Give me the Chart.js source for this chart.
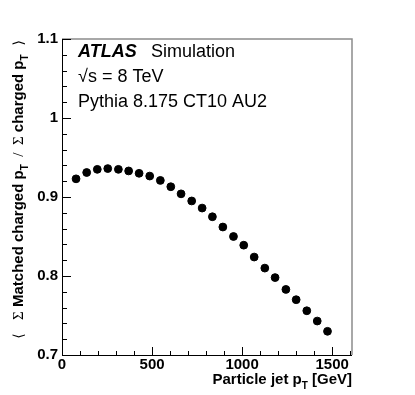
<!DOCTYPE html>
<html>
<head>
<meta charset="utf-8">
<script src="https://cdn.jsdelivr.net/npm/chart.js"></script>
<style>
html, body { margin: 0; padding: 0; background: #fff; }
canvas { display: block; }
</style>
</head>
<body>
<canvas id="graph" width="415" height="395"></canvas>
<script>
// particle jet pT bin centres [GeV] and mean matched fraction
var jetPt = [78, 137, 196, 254, 313, 370, 428, 487, 546, 604, 661, 720, 778,
             835, 893, 952, 1009, 1067, 1126, 1183, 1243, 1300, 1359, 1417, 1474];
var matchedFrac = [0.923, 0.931, 0.935, 0.936, 0.935, 0.933, 0.930, 0.9265, 0.921, 0.913,
                   0.904, 0.895, 0.886, 0.875, 0.862, 0.850, 0.839, 0.824, 0.810, 0.798,
                   0.783, 0.770, 0.756, 0.743, 0.730];
var xTickVals = [0, 500, 1000, 1500];
var xTickLabels = ['0', '500', '1000', '1500'];
var yTickVals = [0.7, 0.8, 0.9, 1.0, 1.1];
var yTickLabels = ['0.7', '0.8', '0.9', '1', '1.1'];
var infoLines = ['√s = 8 TeV', 'Pythia 8.175 CT10 AU2'];

var BOLD = 'bold 15px "Liberation Sans", Arial, sans-serif';
var SUB = 'bold 10px "Liberation Sans", Arial, sans-serif';
var SIGMA = '15px "Liberation Serif", "DejaVu Serif", serif';
var BRACK = '14px "DejaVu Sans", sans-serif';

function drawRich(c, parts, x, y, align){
    var total = 0;
    parts.forEach(function(p){
        c.font = p.font;
        p.w = c.measureText(p.text).width;
        total += p.w;
    });
    var cx = align === 'right' ? x - total : x;
    parts.forEach(function(p){
        c.font = p.font;
        c.fillText(p.text, cx, y + (p.dy || 0));
        cx += p.w;
    });
}

var decorations = {
    id: 'decorations',
    beforeDatasetsDraw: function(chart){
        var c = chart.ctx;
        var a = chart.chartArea;
        var xs = chart.scales.x, ys = chart.scales.y;
        c.save();
        // grey top/right frame
        c.strokeStyle = '#8c8c8c';
        c.lineWidth = 1.5;
        c.beginPath();
        c.moveTo(a.left, a.top); c.lineTo(a.right, a.top); c.lineTo(a.right, a.bottom);
        c.stroke();
        // axes
        c.strokeStyle = '#000';
        c.lineWidth = 1;
        c.beginPath();
        c.moveTo(a.left + 0.5, a.top); c.lineTo(a.left + 0.5, a.bottom + 0.5); c.lineTo(a.right, a.bottom + 0.5);
        c.stroke();
        // inward ticks, x
        c.beginPath();
        for(let v = 0; v <= 1600; v += 100){
            let px = Math.round(xs.getPixelForValue(v)) + 0.5;
            let len = v % 500 === 0 ? 8 : 4;
            c.moveTo(px, a.bottom); c.lineTo(px, a.bottom - len);
        }
        // inward ticks, y
        for(let i = 0; i <= 20; i++){
            let v = 0.7 + i * 0.02;
            let py = Math.round(ys.getPixelForValue(v)) + 0.5;
            let len = i % 5 === 0 ? 9 : 5;
            c.moveTo(a.left, py); c.lineTo(a.left + len, py);
        }
        c.stroke();
        c.restore();
    },
    afterDraw: function(chart){
        var c = chart.ctx;
        var a = chart.chartArea;
        c.save();
        c.fillStyle = '#000';
        c.textBaseline = 'alphabetic';
        c.textAlign = 'left';
        // ATLAS label
        c.font = 'italic bold 18px "Liberation Sans", Arial, sans-serif';
        c.fillText('ATLAS', 78, 57);
        c.font = '18px "Liberation Sans", Arial, sans-serif';
        c.fillText('Simulation', 151, 57);
        c.fillText(infoLines[0], 78, 82);
        c.fillText(infoLines[1], 78, 107);
        // x title
        drawRich(c, [
            {text: 'Particle jet p', font: BOLD},
            {text: 'T', font: SUB, dy: 5},
            {text: ' [GeV]', font: BOLD}
        ], a.right, 384, 'right');
        // y title (rotated)
        c.translate(23, a.top + 1);
        c.rotate(-Math.PI / 2);
        drawRich(c, [
            {text: '\u27E8   ', font: BRACK},
            {text: 'Σ', font: SIGMA},
            {text: ' Matched charged p', font: BOLD},
            {text: 'T', font: SUB, dy: 5},
            {text: '  /  ', font: SIGMA},
            {text: 'Σ', font: SIGMA},
            {text: ' charged p', font: BOLD},
            {text: 'T', font: SUB, dy: 5},
            {text: '  \u27E9', font: BRACK}
        ], 0, 0, 'right');
        c.restore();
    }
};

var ctx = document.getElementById('graph').getContext('2d');
var chart = new Chart(ctx, {
    type: 'scatter',
    data: {
        datasets: [{
            data: jetPt.map(function(x, i){ return {x: x, y: matchedFrac[i]}; }),
            backgroundColor: '#000',
            borderColor: '#000',
            pointRadius: 3.9,
            pointHoverRadius: 3.9,
            showLine: false
        }]
    },
    options: {
        responsive: false,
        animation: false,
        events: [],
        layout: { padding: { left: 0, right: 63, top: 39, bottom: 0 } },
        plugins: { legend: { display: false }, tooltip: { enabled: false } },
        scales: {
            x: {
                type: 'linear',
                min: 0,
                max: 1610,
                grid: { display: false, drawTicks: false },
                border: { display: false },
                afterFit: function(s){ s.height = 40; },
                afterBuildTicks: function(s){ s.ticks = xTickVals.map(function(v){ return {value: v}; }); },
                ticks: {
                    autoSkip: false,
                    maxRotation: 0,
                    padding: 1,
                    color: '#000',
                    font: { family: '"Liberation Sans", Arial, sans-serif', size: 15, weight: 'bold' },
                    callback: function(v, i){ return xTickLabels[i]; }
                }
            },
            y: {
                type: 'linear',
                min: 0.7,
                max: 1.1,
                grid: { display: false, drawTicks: false },
                border: { display: false },
                afterFit: function(s){ s.width = 62; },
                afterBuildTicks: function(s){ s.ticks = yTickVals.map(function(v){ return {value: v}; }); },
                ticks: {
                    autoSkip: false,
                    padding: 4,
                    color: '#000',
                    font: { family: '"Liberation Sans", Arial, sans-serif', size: 15, weight: 'bold' },
                    callback: function(v, i){ return yTickLabels[i]; }
                }
            }
        }
    },
    plugins: [decorations]
});
</script>
</body>
</html>
